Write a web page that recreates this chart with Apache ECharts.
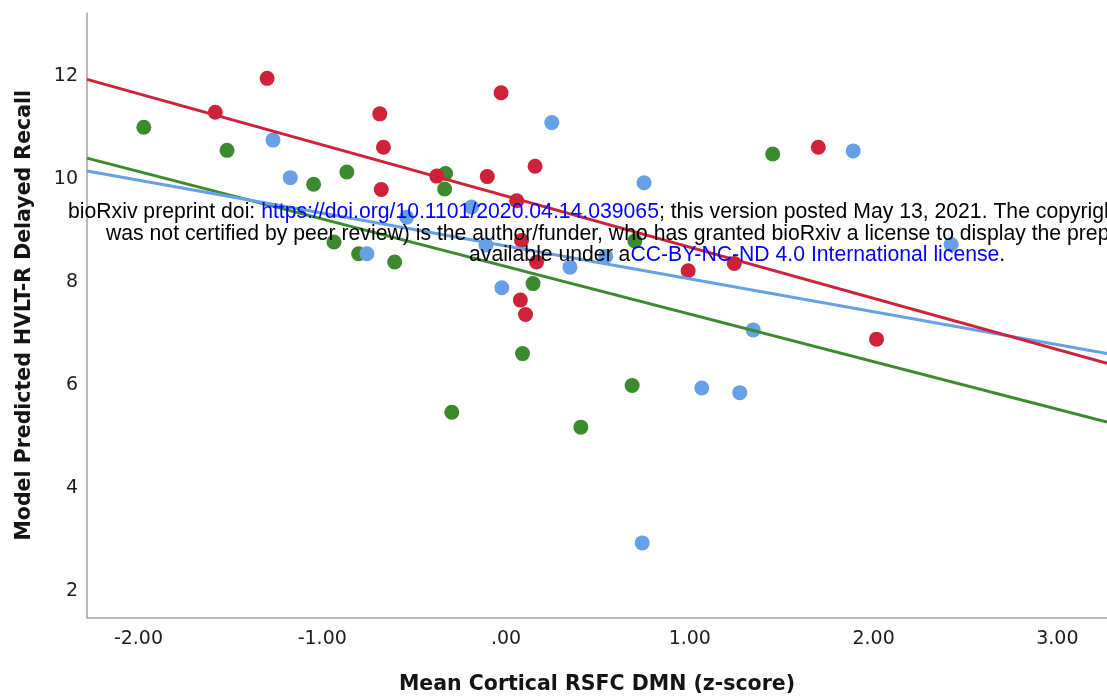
<!DOCTYPE html>
<html>
<head>
<meta charset="utf-8">
<title>Model Predicted HVLT-R Delayed Recall</title>
<script src="https://cdn.jsdelivr.net/npm/echarts@6/dist/echarts.min.js"></script>
<style>
  html, body { margin: 0; padding: 0; background: #fff; }
  #chart { width: 1107px; height: 696px; }
</style>
</head>
<body>
<div id="chart"></div>
<script>
// points: [mean cortical RSFC DMN z-score, predicted recall]
const redPoints = [
  [-1.300, 11.96], [-1.582, 11.30], [-0.687, 11.27], [-0.667, 10.62], [-0.679, 9.80],
  [-0.377, 10.06], [-0.102, 10.05], [-0.027, 11.68], [0.058, 9.58], [0.158, 10.25],
  [0.084, 8.81], [0.166, 8.39], [0.078, 7.65], [0.106, 7.37], [0.991, 8.22],
  [1.242, 8.36], [1.699, 10.62], [2.016, 6.89]
]
const bluePoints = [
  [-1.268, 10.76], [-1.174, 10.03], [-0.541, 9.26], [-0.757, 8.55], [-0.188, 9.46],
  [-0.109, 8.72], [-0.023, 7.89], [0.249, 11.10], [0.348, 8.29], [0.751, 9.93],
  [0.543, 8.50], [1.345, 7.07], [1.065, 5.94], [1.272, 5.85], [1.889, 10.55],
  [2.422, 8.73], [0.741, 2.93]
]
const greenPoints = [
  [-1.971, 11.01], [-1.518, 10.56], [-1.047, 9.90], [-0.866, 10.14], [-0.329, 10.11],
  [-0.334, 9.81], [-0.936, 8.78], [-0.802, 8.55], [-0.606, 8.39], [0.147, 7.97],
  [0.090, 6.61], [-0.295, 5.47], [0.686, 5.99], [0.407, 5.18], [1.451, 10.49],
  [0.701, 8.80]
]

// fit lines: value at the left and right edge of the plot
const fitX = [-2.28, 3.27]
const redFit = [11.94, 6.42]
const blueFit = [10.16, 6.61]
const greenFit = [10.41, 5.28]

const xTicks = [-2, -1, 0, 1, 2, 3]
const xTickLabels = ['-2.00', '-1.00', '.00', '1.00', '2.00', '3.00']
const yTicks = [2, 4, 6, 8, 10, 12]

const colors = { red: '#d0213b', blue: '#66a0e6', green: '#3c8a2e' }

function tickLabel(ticks, labels) {
  return function(v) {
    for (let i = 0; i < ticks.length; i++) {
      if (Math.abs(ticks[i] - v) < 1e-6) return labels[i]
    }
    return ''
  }
}

function fitLine(ys) {
  return fitX.map((x, i) => [x, ys[i]])
}

function scatter(name, data, color) {
  return {
    name: name,
    type: 'scatter',
    data: data,
    symbolSize: 15,
    itemStyle: { color: color, opacity: 1 },
    z: 2
  }
}

function line(name, ys, color) {
  return {
    name: name,
    type: 'line',
    data: fitLine(ys),
    showSymbol: false,
    symbol: 'none',
    lineStyle: { color: color, width: 3 },
    z: 3
  }
}

const chart = echarts.init(document.getElementById('chart'))

const textFont = '21.2px "Liberation Sans", Arial, sans-serif'

chart.setOption({
  animation: false,
  backgroundColor: '#fff',
  grid: { left: 87, right: 0, top: 13, bottom: 78.5, outerBoundsMode: 'none' },
  xAxis: {
    type: 'value',
    min: -2.28,
    max: 3.27,
    minInterval: 1,
    maxInterval: 1,
    axisLine: { onZero: false, lineStyle: { color: '#a3a3a3', width: 1.5 } },
    axisTick: { show: false },
    splitLine: { show: false },
    axisLabel: {
      formatter: tickLabel(xTicks, xTickLabels),
      margin: 12,
      fontFamily: 'DejaVu Sans',
      fontSize: 19,
      color: '#1c1c1c'
    },
    name: 'Mean Cortical RSFC DMN (z-score)',
    nameLocation: 'middle',
    nameGap: 57,
    nameTextStyle: { fontFamily: 'DejaVu Sans', fontWeight: 'bold', fontSize: 20.5, color: '#141414' }
  },
  yAxis: {
    type: 'value',
    min: 1.48,
    max: 13.23,
    minInterval: 2,
    maxInterval: 2,
    axisLine: { show: true, onZero: false, lineStyle: { color: '#a3a3a3', width: 1.5 } },
    axisTick: { show: false },
    splitLine: { show: false },
    axisLabel: {
      formatter: tickLabel(yTicks, yTicks.map(String)),
      margin: 9,
      fontFamily: 'DejaVu Sans',
      fontSize: 19,
      color: '#1c1c1c'
    },
    name: 'Model Predicted HVLT-R Delayed Recall',
    nameLocation: 'middle',
    nameGap: 52,
    nameTextStyle: { fontFamily: 'DejaVu Sans', fontWeight: 'bold', fontSize: 20.5, color: '#141414' }
  },
  series: [
    scatter('green', greenPoints, colors.green),
    scatter('blue', bluePoints, colors.blue),
    scatter('red', redPoints, colors.red),
    line('green fit', greenFit, colors.green),
    line('blue fit', blueFit, colors.blue),
    line('red fit', redFit, colors.red)
  ],
  // bioRxiv stamp printed over the figure
  graphic: [
    {
      type: 'text', x: 68, y: 212, z: 100,
      style: {
        text: '{k|bioRxiv preprint doi: }{u|https://doi.org/10.1101/2020.04.14.039065}{k|; this version posted May 13, 2021. The copyright holder for this preprint (which}',
        font: textFont,
        verticalAlign: 'middle',
        rich: {
          k: { fill: '#000', font: textFont },
          u: { fill: '#0000ff', font: textFont }
        }
      }
    },
    {
      type: 'text', x: 106, y: 234, z: 100,
      style: {
        text: 'was not certified by peer review) is the author/funder, who has granted bioRxiv a license to display the preprint in perpetuity. It is made',
        font: textFont,
        fill: '#000',
        verticalAlign: 'middle'
      }
    },
    {
      type: 'text', x: 469, y: 255, z: 100,
      style: {
        text: '{k|available under a}{u|CC-BY-NC-ND 4.0 International license}{k|.}',
        font: textFont,
        verticalAlign: 'middle',
        rich: {
          k: { fill: '#000', font: textFont },
          u: { fill: '#0000ff', font: textFont }
        }
      }
    }
  ]
})
</script>
</body>
</html>
